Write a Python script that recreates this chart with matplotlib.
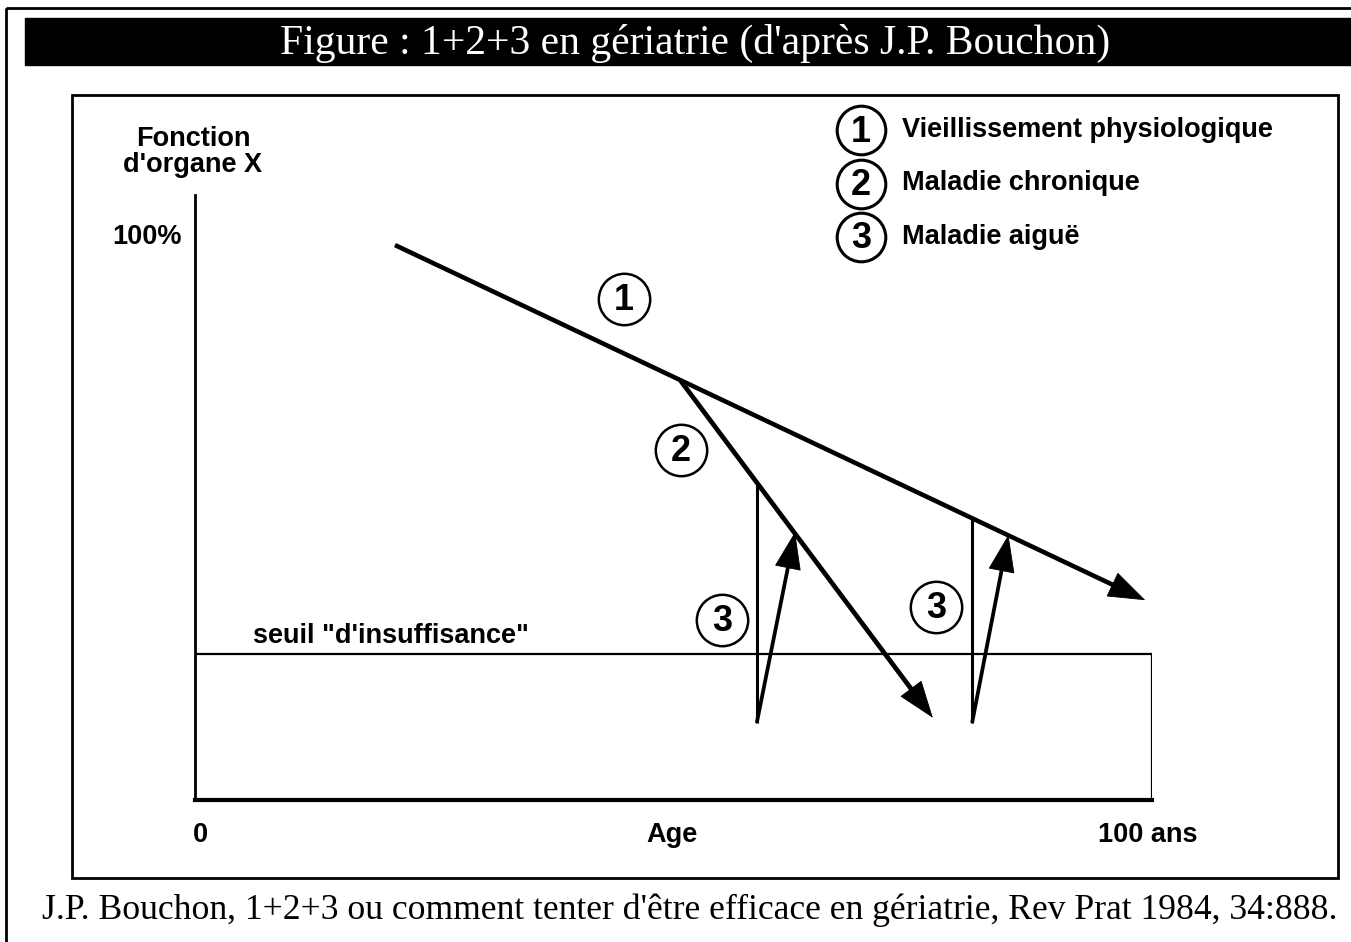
import matplotlib
matplotlib.use("Agg")
import matplotlib.pyplot as plt
from matplotlib.patches import Rectangle, FancyArrowPatch

# --- données (âge en années, fonction d'organe en %) ---
age_1 = [20.9, 99.3]          # vieillissement physiologique
fonction_1 = [98.6, 35.5]
age_2 = [50.7, 77.1]          # maladie chronique
fonction_2 = [74.6, 14.6]
age_3 = [58.7, 81.2]          # maladie aiguë : chute verticale
fonction_3_haut = [56.4, 50.1]
fonction_3_bas = [13.7, 13.7]
age_3_retour = [62.7, 85.0]   # récupération
fonction_3_retour = [47.6, 47.1]
seuil = 25.9

num_age = [44.8, 50.8, 55.1, 77.4]
num_fonction = [89.0, 62.2, 32.0, 34.3]
num_texte = ["1", "2", "3", "3"]

legende_num = ["1", "2", "3"]
legende_texte = ["Vieillissement physiologique", "Maladie chronique",
                 "Maladie aiguë"]

W, H = 1351, 942
fig = plt.figure(figsize=(W / 100, H / 100), dpi=100)

# fond : coordonnées pixel
bg = fig.add_axes([0, 0, 1, 1])
bg.set_xlim(0, W)
bg.set_ylim(H, 0)
bg.axis("off")

SANS = "Liberation Sans"
SERIF = "Liberation Serif"
FS = 19.5

bg.add_patch(Rectangle((6, 8), W, H, fill=False, lw=2, ec="black"))
bg.add_patch(Rectangle((25, 18), W - 25, 47, fc="black", ec="black"))
bg.text(695, 43, "Figure : 1+2+3 en gériatrie (d'après J.P. Bouchon)",
        ha="center", va="center", color="white", fontsize=30, family=SERIF)
bg.add_patch(Rectangle((72, 95), 1266, 783, fill=False, lw=2, ec="black"))
bg.text(690, 910,
        "J.P. Bouchon, 1+2+3 ou comment tenter d'être efficace en gériatrie, "
        "Rev Prat 1984, 34:888.",
        ha="center", va="center", fontsize=25.7, family=SERIF)

# légende
for i, (n, t) in enumerate(zip(legende_num, legende_texte)):
    y = 130 + i * 53.5
    bg.plot(861, y, "o", ms=35, mfc="white", mec="black", mew=2.2)
    bg.text(861, y + 2, n, ha="center", va="center", fontsize=26,
            fontweight="bold", family=SANS)
    bg.text(902, y, t, ha="left", va="center", fontsize=FS,
            fontweight="bold", family=SANS)

# axe principal
x0, x1, y0, y1 = 195, 1152, 800, 195
ax = fig.add_axes([x0 / W, 1 - y0 / H, (x1 - x0) / W, (y0 - y1) / H])
ax.set_xlim(0, 100)
ax.set_ylim(0, 107.5)
ax.patch.set_alpha(0)
for s in ("top", "right"):
    ax.spines[s].set_visible(False)
ax.spines["left"].set_linewidth(2)
ax.spines["bottom"].set_linewidth(3)
ax.set_xticks([])
ax.set_yticks([])

ax.plot([0, 100], [seuil, seuil], color="black", lw=1.6)
ax.plot([100, 100], [0, seuil], color="black", lw=1.6)


def fleche(xa, ya, xb, yb, lw):
    # tige épaisse arrêtée avant la pointe, puis pointe pleine fine
    ax.add_patch(FancyArrowPatch(
        (xa, ya), (xb, yb), arrowstyle="-", color="black", lw=lw,
        shrinkA=0, shrinkB=14, capstyle="butt"))
    ax.add_patch(FancyArrowPatch(
        (xa, ya), (xb, yb), arrowstyle="-|>,head_length=2.1,head_width=0.75",
        mutation_scale=12, color="black", lw=0.6, shrinkA=0, shrinkB=0,
        joinstyle="round"))


fleche(age_1[0], fonction_1[0], age_1[1], fonction_1[1], 3.3)
fleche(age_2[0], fonction_2[0], age_2[1], fonction_2[1], 3.4)
for a, fh, fb, ar, fr in zip(age_3, fonction_3_haut, fonction_3_bas,
                             age_3_retour, fonction_3_retour):
    ax.plot([a, a], [fh, fb], color="black", lw=2.2, solid_capstyle="butt")
    fleche(a, fb, ar, fr, 2.7)

for a, f, t in zip(num_age, num_fonction, num_texte):
    ax.plot(a, f, "o", ms=37, mfc="white", mec="black", mew=1.8,
            clip_on=False)
    ax.text(a, f - 0.2, t, ha="center", va="center", fontsize=26,
            fontweight="bold", family=SANS)

# libellés
bg.text(193, 152, "Fonction\nd'organe X", ha="center", va="center",
        fontsize=FS, fontweight="bold", family=SANS, linespacing=0.95)
bg.text(147, 237, "100%", ha="center", va="center", fontsize=FS,
        fontweight="bold", family=SANS)
bg.text(253, 636, "seuil \"d'insuffisance\"", ha="left", va="center",
        fontsize=FS, fontweight="bold", family=SANS)
bg.text(200, 835, "0", ha="center", va="center", fontsize=FS,
        fontweight="bold", family=SANS)
bg.text(672, 835, "Age", ha="center", va="center", fontsize=FS,
        fontweight="bold", family=SANS)
bg.text(1148, 835, "100 ans", ha="center", va="center", fontsize=FS,
        fontweight="bold", family=SANS)

fig.savefig("out.png", dpi=100, facecolor="white")
